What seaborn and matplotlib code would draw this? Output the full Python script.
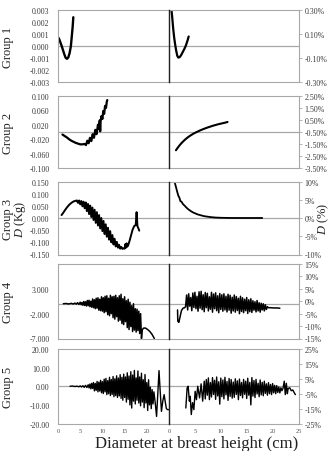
import matplotlib
matplotlib.use('Agg')
import matplotlib.pyplot as plt
import seaborn as sns

# ---------------- data ----------------
# Group 1  (left: D in Kg, right: D in %)
G1L_x = [0.1, 0.3, 0.5, 0.8, 1.1, 1.4, 1.7, 2.0, 2.3, 2.6, 2.9, 3.1, 3.3, 3.45]
G1L_y = [0.0007, 0.00055, 0.00035, 0.00005, -0.0003, -0.00065, -0.00095, -0.00105,
         -0.00095, -0.0006, 0.0, 0.0008, 0.0016, 0.0024]
G1R_x = [0.5, 0.6, 0.7, 0.8, 0.9, 1.0, 1.2, 1.4, 1.6, 1.8, 2.1, 2.4, 2.7, 3.0, 3.3, 3.6, 3.8]
G1R_y = [0.29, 0.25, 0.20, 0.15, 0.11, 0.07, 0.01, -0.04, -0.08, -0.095, -0.09, -0.07,
         -0.045, -0.02, 0.01, 0.05, 0.08]

# Group 2
G2L_x = [1.0, 1.5, 2.0, 2.5, 3.0, 3.5, 4.0, 4.5, 5.0, 5.5, 6.0, 6.3, 6.6, 6.9, 7.2, 7.5,
         7.8, 8.1, 8.4, 8.7, 9.0, 9.2, 9.4, 9.5, 9.6, 9.8, 10.0, 10.2, 10.4, 10.6, 10.8,
         11.0, 11.1]
G2L_y = [-0.007, -0.011, -0.015, -0.020, -0.024, -0.027, -0.030, -0.032, -0.034, -0.034,
         -0.033, -0.036, -0.024, -0.031, -0.016, -0.025, -0.006, -0.016, 0.006, -0.006,
         0.020, 0.008, 0.032, 0.002, 0.030, 0.044, 0.036, 0.058, 0.050, 0.072, 0.066,
         0.084, 0.088]
G2R_x = [1.34, 1.6, 1.9, 2.2, 2.5, 2.8, 3.1, 3.4, 3.7, 4.0, 4.4, 4.8, 5.2, 5.6, 6.0, 6.5,
         7.0, 7.5, 8.0, 8.5, 9.0, 9.5, 10.0, 10.5, 11.0, 11.3]
G2R_y = [-2.01, -1.85, -1.68, -1.52, -1.38, -1.25, -1.13, -1.02, -0.92, -0.83, -0.72,
         -0.62, -0.53, -0.45, -0.37, -0.28, -0.20, -0.12, -0.05, 0.02, 0.08, 0.14, 0.19,
         0.24, 0.29, 0.33]

# Group 3
G3L_x = [0.8, 1.2, 1.6, 2.0, 2.5, 3.0, 3.5, 4.0,
         4.25, 4.5, 4.75, 5.0, 5.25, 5.5, 5.75, 6.0, 6.25, 6.5, 6.75, 7.0, 7.25, 7.5,
         7.75, 8.0, 8.25, 8.5, 8.75, 9.0, 9.25, 9.5, 9.75, 10.0, 10.25, 10.5, 10.75,
         11.0, 11.25, 11.5, 11.75, 12.0, 12.25, 12.5, 12.75, 13.0, 13.25, 13.5, 13.75,
         14.0, 14.25, 14.5,
         14.75, 15.0, 15.15, 15.3, 15.45, 15.6, 15.8, 16.1, 16.4, 16.8, 17.2, 17.5,
         17.7, 17.9, 18.1, 18.3]
G3L_y = [0.012, 0.022, 0.033, 0.043, 0.054, 0.062, 0.068, 0.071,
         0.072, 0.062, 0.072, 0.056, 0.070, 0.048, 0.067, 0.040, 0.064, 0.028, 0.058,
         0.016, 0.051, 0.004, 0.043, -0.008, 0.034, -0.020, 0.024, -0.031, 0.012, -0.043,
         0.000, -0.054, -0.012, -0.066, -0.026, -0.077, -0.040, -0.089, -0.054, -0.100,
         -0.070, -0.109, -0.085, -0.117, -0.098, -0.122, -0.110, -0.126, -0.119, -0.127,
         -0.125, -0.126, -0.108, -0.122, -0.104, -0.118, -0.112, -0.095, -0.075, -0.048,
         -0.032, -0.030, 0.024, -0.034, -0.042, -0.052]
G3R_x = [1.15, 1.4, 1.6, 1.8, 2.0, 2.2, 2.4, 2.7, 3.0, 3.4, 3.8, 4.2, 4.6, 5.0, 5.5, 6.0,
         6.5, 7.0, 7.5, 8.0, 9.0, 10.0, 11.0, 12.0, 14.0, 16.0, 18.0]
G3R_y = [9.5, 8.2, 7.1, 6.1, 5.6, 4.6, 4.5, 3.8, 3.4, 2.8, 2.3, 1.9, 1.55, 1.3, 1.0, 0.8,
         0.6, 0.45, 0.35, 0.25, 0.12, 0.06, 0.03, 0.01, 0.0, 0.0, 0.0]

# Group 4
G4L_x = [1.2, 1.8, 2.4, 3.0, 3.4, 3.8, 4.1, 4.4, 4.7,
         5.0, 5.2, 5.4, 5.6, 5.8, 6.0, 6.2, 6.4, 6.6, 6.8,
         7.0, 7.2, 7.4, 7.6, 7.8, 8.0, 8.2, 8.4, 8.6, 8.8,
         9.0, 9.2, 9.4, 9.6, 9.8, 10.0, 10.2, 10.4, 10.6, 10.8,
         11.0, 11.2, 11.4, 11.6, 11.8, 12.0, 12.2, 12.4, 12.6, 12.8,
         13.0, 13.2, 13.4, 13.6, 13.8, 14.0, 14.2, 14.4, 14.6, 14.8,
         15.0, 15.2, 15.4, 15.6, 15.8, 16.0, 16.2, 16.4, 16.6, 16.8,
         17.0, 17.2, 17.4, 17.6, 17.8, 18.0, 18.2, 18.4, 18.6, 18.8,
         19.0, 19.3, 19.7, 20.2, 20.7, 21.2, 21.7]
G4L_y = [0.0, 0.05, -0.05, 0.08, -0.06, 0.12, -0.08, 0.2, -0.15,
         0.3, -0.2, 0.25, -0.3, 0.45, -0.35, 0.4, -0.45, 0.65, -0.4,
         0.7, -0.6, 0.5, -0.7, 0.95, -0.8, 0.8, -1.0, 1.1, -0.9,
         1.2, -1.3, 0.9, -1.4, 1.4, -1.5, 1.2, -1.8, 1.5, -1.6,
         1.6, -2.2, 1.1, -2.4, 1.7, -2.0, 1.4, -2.8, 1.5, -3.1,
         1.7, -2.6, 1.2, -3.5, 1.6, -3.3, 1.9, -4.0, 1.0, -4.2,
         1.4, -3.6, 0.6, -4.8, 0.9, -5.2, 0.3, -4.6, -0.4, -5.6,
         0.0, -5.3, -1.0, -5.7, -1.1, -5.4, -1.5, -6.0, -2.0, -7.0,
         -5.2, -4.9, -4.9, -5.2, -5.6, -6.2, -7.0]
G4R_x = [1.65, 1.7, 1.9, 2.4, 2.7, 3.0, 3.2,
         3.4, 3.6, 3.8, 4.0, 4.2, 4.4, 4.6, 4.8,
         5.0, 5.2, 5.4, 5.6, 5.8, 6.0, 6.2, 6.4, 6.6, 6.8,
         7.0, 7.2, 7.4, 7.6, 7.8, 8.0, 8.2, 8.4, 8.6, 8.8,
         9.0, 9.2, 9.4, 9.6, 9.8, 10.0, 10.2, 10.4, 10.6, 10.8,
         11.0, 11.2, 11.4, 11.6, 11.8, 12.0, 12.2, 12.4, 12.6, 12.8,
         13.0, 13.2, 13.4, 13.6, 13.8, 14.0, 14.2, 14.4, 14.6, 14.8,
         15.0, 15.2, 15.4, 15.6, 15.8, 16.0, 16.2, 16.4, 16.6, 16.8,
         17.0, 17.2, 17.4, 17.6, 17.8, 18.0, 18.2, 18.4, 18.6, 18.8,
         19.0, 19.2, 19.6, 20.2, 20.8, 21.4]
G4R_y = [-3.5, -8.0, -8.5, -3.8, -2.8, -2.6, -2.2,
         2.5, -3.5, 3.0, -2.0, 1.5, -3.8, 3.3, -2.5,
         3.6, -3.0, 2.0, -4.0, 3.8, -2.8, 4.0, -3.4, 2.6, -4.2,
         3.5, -2.6, 3.2, -3.9, 1.8, -3.2, 3.6, -4.4, 2.9, -3.0,
         3.4, -3.8, 2.2, -4.6, 3.1, -3.3, 2.6, -4.0, 3.0, -3.5,
         2.0, -4.3, 2.8, -3.6, 2.4, -4.8, 1.6, -3.9, 2.5, -4.4,
         1.9, -3.7, 1.2, -5.0, 2.0, -4.1, 1.4, -4.6, 0.8, -3.8,
         1.5, -4.9, 0.6, -4.2, 1.0, -4.5, 0.2, -3.6, -0.2, -4.3,
         0.3, -3.9, -0.6, -4.4, -0.8, -3.5, -1.0, -3.9, -1.4, -3.3,
         -2.2, -2.6, -2.6, -2.7, -2.7, -2.8]

# Group 5
G5L_x = [2.7, 3.3, 3.8, 4.3, 4.7, 5.0, 5.3, 5.6, 5.9, 6.2, 6.5,
         6.8, 7.0, 7.2, 7.4, 7.6, 7.8,
         8.0, 8.2, 8.4, 8.6, 8.8, 9.0, 9.2, 9.4, 9.6, 9.8,
         10.0, 10.2, 10.4, 10.6, 10.8, 11.0, 11.2, 11.4, 11.6, 11.8,
         12.0, 12.2, 12.4, 12.6, 12.8, 13.0, 13.2, 13.4, 13.6, 13.8,
         14.0, 14.2, 14.4, 14.6, 14.8, 15.0, 15.2, 15.4, 15.6, 15.8,
         16.0, 16.2, 16.4, 16.6, 16.8, 17.0, 17.2, 17.4, 17.6, 17.8,
         18.0, 18.2, 18.4, 18.6, 18.8, 19.0, 19.2, 19.4, 19.6, 19.8,
         20.0, 20.2, 20.4, 20.6, 20.8, 21.0, 21.2, 21.4, 21.6,
         21.9, 22.2, 22.5, 22.75, 23.0, 23.3, 23.6, 23.9, 24.2, 24.4, 24.7, 25.0]
G5L_y = [0.0, 0.1, -0.15, 0.05, -0.3, 0.2, -0.4, 0.3, -0.6, 0.5, -0.7,
         0.8, -0.9, 1.2, -1.4, 1.6, -1.2,
         2.0, -2.5, 1.5, -2.2, 2.6, -3.0, 2.2, -2.6, 3.2, -3.5,
         2.5, -3.9, 3.8, -3.0, 4.2, -4.5, 3.0, -4.0, 4.8, -5.0,
         3.6, -4.4, 5.2, -5.6, 4.0, -5.0, 5.6, -6.0, 4.4, -5.2,
         6.2, -6.5, 4.8, -7.5, 6.5, -6.0, 5.0, -8.5, 7.2, -7.0,
         5.5, -10.0, 7.8, -11.7, 6.0, -8.0, 8.5, -9.5, 4.5, -7.5,
         8.2, -9.0, 5.0, -10.5, 7.0, -8.5, 3.5, -11.5, 6.3, -9.0,
         2.0, -13.0, 3.5, -10.0, -0.5, -12.0, -1.8, -9.5, -3.0,
         -9.0, -16.2, -3.0, 8.4, -2.0, -13.5, -8.0, -4.5, -9.0, -12.0, -12.6, -12.5]
G5R_x = [3.25, 3.5, 3.7, 3.93, 4.1, 4.3, 4.55, 4.8, 5.05, 5.3, 5.55, 5.9, 6.2, 6.5,
         6.8, 7.0, 7.2, 7.4, 7.6, 7.8,
         8.0, 8.2, 8.4, 8.6, 8.8, 9.0, 9.2, 9.4, 9.6, 9.8,
         10.0, 10.2, 10.4, 10.6, 10.8, 11.0, 11.2, 11.4, 11.6, 11.8,
         12.0, 12.2, 12.4, 12.6, 12.8, 13.0, 13.2, 13.4, 13.6, 13.8,
         14.0, 14.2, 14.4, 14.6, 14.8, 15.0, 15.2, 15.4, 15.6, 15.8,
         16.0, 16.2, 16.4, 16.6, 16.8, 17.0, 17.2, 17.4, 17.6, 17.8,
         18.0, 18.2, 18.4, 18.6, 18.8, 19.0, 19.2, 19.4, 19.6, 19.8,
         20.0, 20.2, 20.4, 20.6, 20.8, 21.0, 21.2, 21.4, 21.6, 21.8,
         22.0, 22.25, 22.45, 22.65, 22.85, 23.0, 23.3, 23.6, 23.9, 24.2, 24.4]
G5R_y = [-14.6, -1.1, 0.0, -10.0, -6.7, -19.0, -11.0, -15.7, -3.4, -9.0, 0.0, -7.8, 1.6, -10.0,
         3.4, -8.5, 4.5, -6.0, 5.6, -9.0,
         2.5, -7.2, 5.8, -5.5, 4.0, -8.8, 6.2, -6.5, 3.0, -12.0,
         5.5, -7.0, 4.2, -8.5, 6.0, -5.8, 3.2, -9.5, 5.2, -6.8,
         4.5, -8.0, 2.8, -7.4, 5.0, -5.5, 3.6, -9.0, 4.8, -6.2,
         2.5, -7.8, 4.6, -5.4, 3.4, -8.2, 5.4, -6.0, 2.6, -12.5,
         5.8, -6.6, 3.8, -7.6, 4.6, -5.2, 2.0, -7.0, 4.2, -5.8,
         2.6, -6.4, 3.4, -4.8, 1.6, -6.0, 2.4, -5.0, 1.2, -5.6,
         1.8, -4.4, 0.6, -5.0, 0.4, -4.2, -0.5, -4.5, -1.0, -3.0,
         -1.5, 3.4, -5.6, 2.0, -5.0, -1.5, -1.0, -3.0, -2.5, -4.5, -5.6]

GROUP_LABELS = ['Group 1', 'Group 2', 'Group 3', 'Group 4', 'Group 5']
LEFT_LIMS = [(-0.003, 0.003), (-0.1, 0.1), (-0.15, 0.15), (-7, 8), (-20, 20)]
LEFT_TICKS = [[-0.003, -0.002, -0.001, 0.0, 0.001, 0.002, 0.003],
              [-0.1, -0.06, -0.02, 0.02, 0.06, 0.1],
              [-0.15, -0.1, -0.05, 0.0, 0.05, 0.1, 0.15],
              [-7, -2, 3],
              [-20, -10, 0, 10, 20]]
LEFT_FMT = ['{:.3f}', '{:.3f}', '{:.3f}', '{:.3f}', '{:.2f}']
RIGHT_LIMS = [(-0.3, 0.3), (-3.5, 2.5), (-10, 10), (-15, 15), (-25, 25)]
RIGHT_TICKS = [[-0.3, -0.1, 0.1, 0.3],
               [-3.5, -2.5, -1.5, -0.5, 0.5, 1.5, 2.5],
               [-10, -5, 0, 5, 10],
               [-15, -10, -5, 0, 5, 10, 15],
               [-25, -15, -5, 5, 15, 25]]
RIGHT_FMT = ['{:.2f}%', '{:.2f}%', '{:.0f}%', '{:.0f}%', '{:.0f}%']
X_TICKS_LEFT = [0, 5, 10, 15, 20]
X_TICKS_RIGHT = [0, 5, 10, 15, 20, 25]
LEFT_SERIES = [(G1L_x, G1L_y), (G2L_x, G2L_y), (G3L_x, G3L_y), (G4L_x, G4L_y), (G5L_x, G5L_y)]
RIGHT_SERIES = [(G1R_x, G1R_y), (G2R_x, G2R_y), (G3R_x, G3R_y), (G4R_x, G4R_y), (G5R_x, G5R_y)]

# ---------------- style ----------------
sns.set_theme(style='white')
plt.rcParams['font.family'] = ['Liberation Serif', 'DejaVu Serif']
plt.rcParams['mathtext.fontset'] = 'custom'
plt.rcParams['mathtext.it'] = 'Liberation Serif:italic'
plt.rcParams['mathtext.rm'] = 'Liberation Serif'
plt.rcParams['axes.unicode_minus'] = False

W, H = 331, 452
fig = plt.figure(figsize=(W / 100, H / 100), dpi=100)
fig.patch.set_facecolor('white')

ROWS = [(11, 83.3), (96.7, 169.3), (182.5, 255.5), (265, 339.5), (350, 424.5)]
XL0, XMID, XR1 = 58, 169, 298.5
GRAY = '#a8a8a8'
TXT = '#3a3a3a'
LW_L = [1.7, 1.6, 1.4, 1.1, 1.0]
LW_R = [1.6, 1.5, 1.3, 1.1, 1.0]

for i, (top, bot) in enumerate(ROWS):
    y0 = 1 - bot / H
    h = (bot - top) / H
    axL = fig.add_axes([XL0 / W, y0, (XMID - XL0) / W, h])
    axR = fig.add_axes([XMID / W, y0, (XR1 - XMID) / W, h])

    # zero reference line across both panels
    axL.axhline(0, color=GRAY, lw=0.9, zorder=1)
    lo, hi = LEFT_LIMS[i]
    frac = (0 - lo) / (hi - lo)
    axR.plot([0, 1], [frac, frac], transform=axR.transAxes, color=GRAY, lw=0.9, zorder=1)

    xl, yl = LEFT_SERIES[i]
    xr, yr = RIGHT_SERIES[i]
    sns.lineplot(x=xl, y=yl, ax=axL, color='black', linewidth=LW_L[i],
                 estimator=None, sort=False, legend=False)
    sns.lineplot(x=xr, y=yr, ax=axR, color='black', linewidth=LW_R[i],
                 estimator=None, sort=False, legend=False)

    axL.set_xlim(0, 25)
    axR.set_xlim(0, 25)
    axL.set_ylim(*LEFT_LIMS[i])
    axR.set_ylim(*RIGHT_LIMS[i])
    axL.set_xlabel('')
    axL.set_ylabel('')
    axR.set_xlabel('')
    axR.set_ylabel('')

    for ax in (axL, axR):
        ax.set_facecolor('none')
        for s in ax.spines.values():
            s.set_visible(True)
            s.set_color(GRAY)
            s.set_linewidth(0.8)
    axR.spines['left'].set_color('#222222')
    axR.spines['left'].set_linewidth(1.0)
    axR.spines['left'].set_zorder(5)

    axL.set_yticks(LEFT_TICKS[i])
    axL.set_yticklabels([LEFT_FMT[i].format(v) for v in LEFT_TICKS[i]])
    axL.tick_params(axis='y', left=False, length=0, pad=6, labelsize=5.7, labelcolor=TXT)

    axR.yaxis.tick_right()
    axR.set_yticks(RIGHT_TICKS[i])
    axR.set_yticklabels([RIGHT_FMT[i].format(v) for v in RIGHT_TICKS[i]])
    axR.tick_params(axis='y', right=True, left=False, length=2.5, width=0.6, color=GRAY,
                    pad=2, labelsize=5.7, labelcolor=TXT)

    if i == len(ROWS) - 1:
        axL.set_xticks(X_TICKS_LEFT)
        axL.set_xticklabels([str(v) for v in X_TICKS_LEFT])
        axR.set_xticks(X_TICKS_RIGHT)
        axR.set_xticklabels([str(v) for v in X_TICKS_RIGHT])
        for ax in (axL, axR):
            ax.tick_params(axis='x', bottom=False, length=0, pad=3, labelsize=4.6,
                           labelcolor='#555555')
    else:
        axL.set_xticks([])
        axR.set_xticks([])

    yc = 1 - (top + bot) / 2 / H
    fig.text(7.5 / W, yc, GROUP_LABELS[i], rotation=90, ha='center', va='center',
             fontsize=9, color='#222222')
    if i == 2:
        fig.text(20.5 / W, yc, '$D$ (Kg)', rotation=90, ha='center', va='center',
                 fontsize=9, color='#222222')
        fig.text(323.5 / W, yc, '$D$ (%)', rotation=90, ha='center', va='center',
                 fontsize=9, color='#222222')

fig.text(197 / W, 1 - 448 / H, 'Diameter at breast height (cm)', ha='center',
         va='baseline', fontsize=12, color='#222222')

fig.savefig('out.png', dpi=100, facecolor='white')
